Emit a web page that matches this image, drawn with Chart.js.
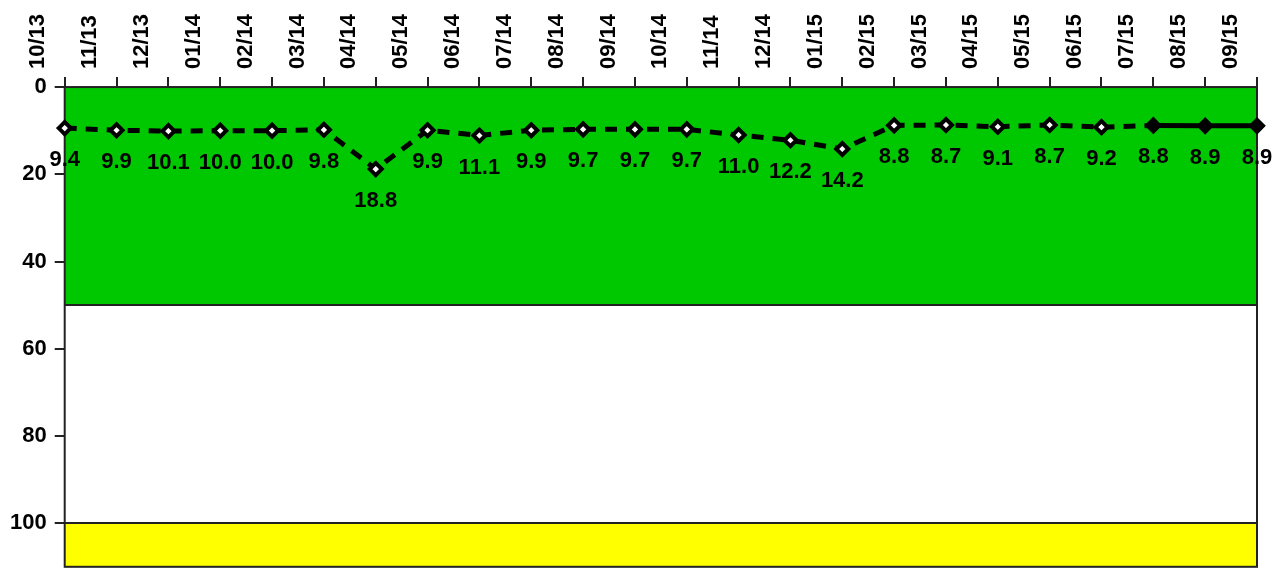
<!DOCTYPE html>
<html>
<head>
<meta charset="utf-8">
<script src="https://cdn.jsdelivr.net/npm/chart.js@4/dist/chart.umd.min.js"></script>
<style>
  html, body { margin: 0; padding: 0; background: #fff; }
  #wrap { width: 1277px; height: 588px; position: relative; }
</style>
</head>
<body>
<div id="wrap"><canvas id="chart"></canvas></div>
<script>
const months = ["10/13", "11/13", "12/13", "01/14", "02/14", "03/14", "04/14", "05/14",
    "06/14", "07/14", "08/14", "09/14", "10/14", "11/14", "12/14", "01/15",
    "02/15", "03/15", "04/15", "05/15", "06/15", "07/15", "08/15", "09/15"];
const values = [9.4, 9.9, 10.1, 10.0, 10.0, 9.8, 18.8, 9.9,
    11.1, 9.9, 9.7, 9.7, 9.7, 11.0, 12.2, 14.2,
    8.8, 8.7, 9.1, 8.7, 9.2, 8.8, 8.9, 8.9];
// bands: [from, to, colour]
const bands = [[0, 50, "#00c800"], [50, 100, "#ffffff"], [100, 110, "#ffff00"]];
const solidFrom = 21; // line becomes solid from 07/15 on

const FONT = "'Liberation Sans', Arial, sans-serif";

const bandPlugin = {
    id: "bands",
    beforeDatasetsDraw(chart) {
        const { ctx, chartArea, scales } = chart;
        const y = scales.y;
        ctx.save();
        bands.forEach(([a, b, col]) => {
            const y1 = y.getPixelForValue(a);
            const y2 = y.getPixelForValue(b);
            ctx.fillStyle = col;
            ctx.fillRect(chartArea.left, y1, chartArea.right - chartArea.left, y2 - y1);
        });
        ctx.strokeStyle = "#222";
        ctx.lineWidth = 2;
        [50, 100].forEach((v) => {
            const p = Math.round(y.getPixelForValue(v));
            ctx.beginPath();
            ctx.moveTo(chartArea.left, p);
            ctx.lineTo(chartArea.right, p);
            ctx.stroke();
        });
        ctx.strokeRect(chartArea.left, chartArea.top, chartArea.right - chartArea.left, chartArea.bottom - chartArea.top);
        ctx.restore();
    },
};

const labelPlugin = {
    id: "valueLabels",
    afterDatasetsDraw(chart) {
        const { ctx } = chart;
        const meta = chart.getDatasetMeta(0);
        ctx.save();
        ctx.font = "bold 22px " + FONT;
        ctx.fillStyle = "#000";
        ctx.textAlign = "center";
        ctx.textBaseline = "middle";
        meta.data.forEach((pt, i) => {
            ctx.fillText(values[i].toFixed(1), pt.x, pt.y + 32);
        });
        ctx.restore();
    },
};

const ctx = document.getElementById("chart").getContext("2d");
const myChart = new Chart(ctx, {
    type: "line",
    data: {
        labels: months,
        datasets: [
            {
                data: values,
                borderColor: "#000",
                borderWidth: 5,
                tension: 0,
                pointStyle: "rectRot",
                pointRadius: 6,
                pointBorderWidth: 4,
                pointBorderColor: "#000",
                pointBackgroundColor: values.map((v, i) => (i >= solidFrom ? "#000" : "#fff")),
                segment: {
                    borderDash: (c) => (c.p0DataIndex >= solidFrom ? [] : [12, 9]),
                },
            },
        ],
    },
    options: {
        responsive: true,
        maintainAspectRatio: false,
        animation: false,
        layout: { padding: { top: 6, right: 20, bottom: 2, left: 2 } },
        plugins: {
            legend: { display: false },
            tooltip: { enabled: false },
        },
        scales: {
            x: {
                position: "top",
                offset: false,
                grid: { drawOnChartArea: false, tickLength: 10, tickColor: "#222", lineWidth: 2 },
                border: { display: false },
                ticks: {
                    color: "#000",
                    font: { family: FONT, size: 22, weight: "bold" },
                    minRotation: 90,
                    maxRotation: 90,
                    padding: 8,
                    autoSkip: false,
                },
            },
            y: {
                reverse: true,
                min: 0,
                max: 110,
                grid: { drawOnChartArea: false, tickLength: 10, tickColor: "#222", lineWidth: 2 },
                border: { display: false },
                ticks: {
                    stepSize: 20,
                    includeBounds: false,
                    color: "#000",
                    font: { family: FONT, size: 22, weight: "bold" },
                    padding: 8,
                },
            },
        },
    },
    plugins: [bandPlugin, labelPlugin],
});
</script>
</body>
</html>
